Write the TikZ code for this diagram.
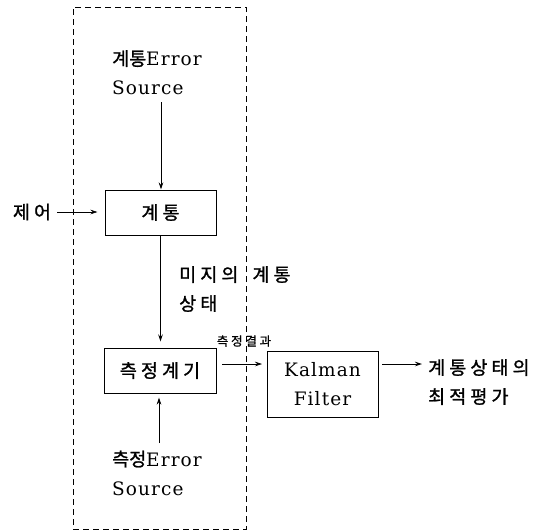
\documentclass[tikz,border=0pt]{standalone}
\usepackage{fontspec}
\setmainfont{DejaVu Serif}[LetterSpace=6]
\newfontfamily\kr{Noto Sans CJK KR}[FakeBold=1.2]
\newfontfamily\krs{Noto Sans CJK KR}[LetterSpace=22,FakeBold=1.2]
\usetikzlibrary{arrows.meta}
\begin{document}
\begin{tikzpicture}[x=1pt,y=-1pt,
  lbl/.style={inner sep=0pt, align=left, font=\fontsize{18.5}{29}\selectfont},
  boxn/.style={draw, line width=1pt, inner sep=0pt, align=center, font=\fontsize{18.5}{29}\selectfont},
  arr/.style={line width=0.8pt, -{Stealth[length=7pt,width=4.5pt]}},
  frame/.style={draw, line width=0.8pt, dash pattern=on 6pt off 4pt, inner sep=0pt}]
\useasboundingbox (0,0) rectangle (548,531);
\node[frame, minimum width=173pt, minimum height=522pt] (fr) at (159.5,268) {};
\node[lbl, anchor=west] (src1) at (112,72.5) {{\kr 계통}Error\\Source};
\node[boxn, minimum width=111pt, minimum height=45pt] (sys) at (160.5,212.5) {\krs 계통};
\node[lbl] (ctrl) at (32,212) {\krs 제어};
\node[boxn, minimum width=112pt, minimum height=45pt] (meas) at (160,370.5) {\krs 측정계기};
\node[boxn, minimum width=111pt, minimum height=66pt] (kf) at (322.5,384.5) {Kalman\\Filter};
\node[lbl, anchor=west] (unk) at (179,289) {{\krs 미지의}\hspace{14pt}{\krs 계통}\\{\krs 상태}};
\node[inner sep=0pt, font=\fontsize{12.5}{14}\selectfont] (res) at (244,341) {\krs 측정결과};
\node[lbl, anchor=west] (out) at (428,382) {{\krs 계통상태의}\\{\krs 최적평가}};
\node[lbl, anchor=west] (src2) at (112,473) {{\kr 측정}Error\\Source};
\coordinate (a1) at (161,102);
\draw[arr] (a1) -- (a1 |- sys.north);
\draw[arr, line width=0.6pt, shorten <=6pt, shorten >=7pt] (ctrl.east) -- (ctrl.east -| sys.west);
\draw[arr, shorten >=6pt] (sys.south) -- (sys.south |- meas.north);
\coordinate (m1) at (222,364);
\coordinate (k1) at (262,364);
\draw[arr, line width=0.6pt] (m1) -- (k1);
\coordinate (k2) at (382,364);
\coordinate (o1) at (422,364);
\draw[arr] (k2) -- (o1);
\coordinate (s2) at (159,443);
\draw[arr, shorten >=4pt] (s2) -- (s2 |- meas.south);
\end{tikzpicture}
\end{document}
